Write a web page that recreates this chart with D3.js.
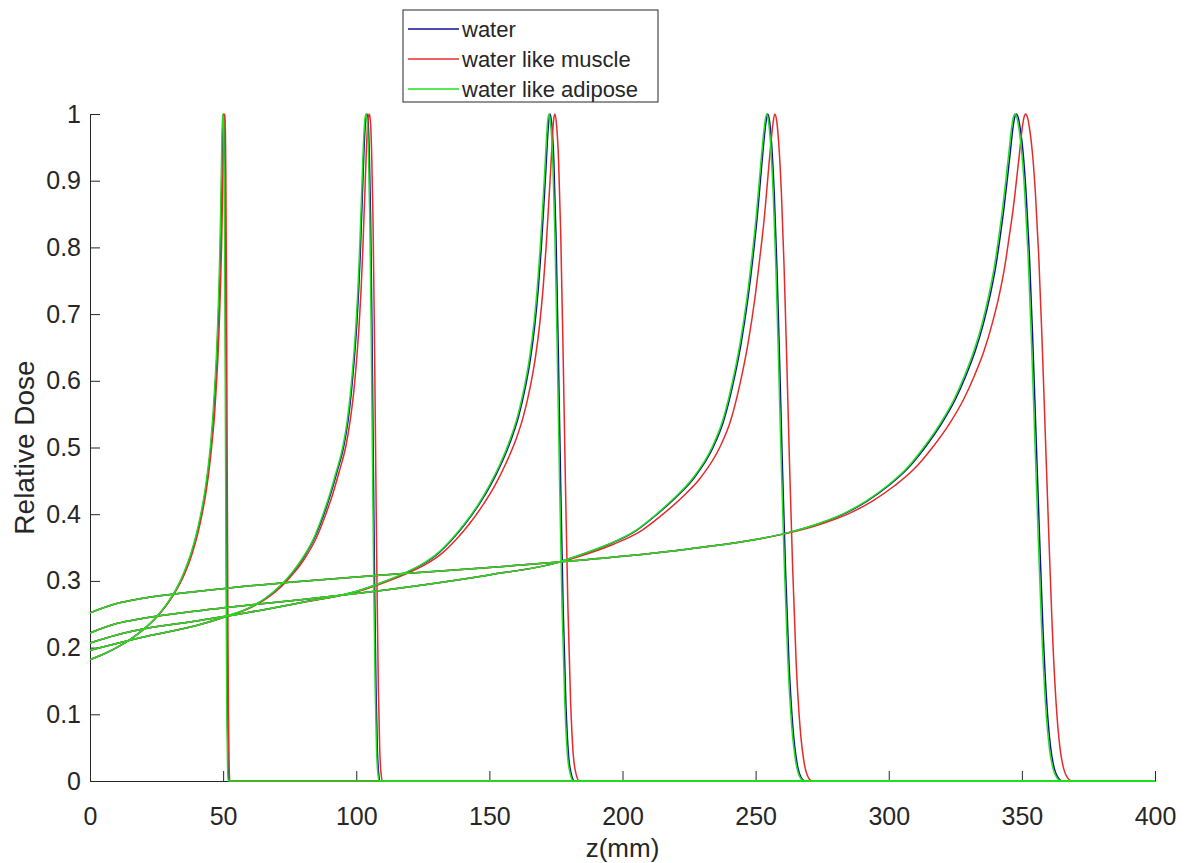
<!DOCTYPE html>
<html>
<head>
<meta charset="utf-8">
<script src="https://cdn.jsdelivr.net/npm/d3@7"></script>
<style>
  body { margin: 0; background: #fff; }
  svg text { font-family: "Liberation Sans", Arial, sans-serif; fill: #262626; }
</style>
</head>
<body>
<div id="chart"></div>
<script>
// depth (mm) where each curve reaches the matching dose value
var dose50 = [.182,.19,.2,.212,.227,.246,.266,.288,.313,.34,.368,.4,.436,.472,.51,.55,.595,.64,.69,.74,.8,.86,.92,.965,.99,1,.99,.92,.75,.5,.27,.1,.025,0,0];
var z50Water   = [0,5,10,15,20,25,29,32.5,35.5,38,40,41.8,43.4,44.6,45.6,46.4,47.1,47.7,48.2,48.6,49,49.3,49.55,49.75,49.95,50.15,50.35,50.6,50.85,51.1,51.35,51.6,51.85,52.1,400];
var z50Muscle  = [0,5,10,15,20,25.1,29.2,32.7,35.8,38.3,40.3,42.1,43.7,44.9,45.9,46.8,47.5,48.1,48.6,49,49.4,49.7,49.95,50.15,50.35,50.55,50.75,51,51.25,51.5,51.75,52,52.25,52.5,400];
var z50Adipose = [0,5,10,15,20,24.9,28.9,32.4,35.3,37.8,39.8,41.6,43.2,44.4,45.4,46.2,46.9,47.5,48,48.4,48.8,49.1,49.35,49.55,49.75,49.95,50.15,50.4,50.65,50.9,51.15,51.4,51.65,51.9,400];

var dose104 = [.196,.206,.218,.233,.247,.26,.274,.292,.312,.334,.362,.394,.428,.464,.5,.54,.585,.635,.685,.735,.79,.845,.895,.94,.975,.995,1,.99,.94,.84,.68,.48,.29,.14,.05,.012,0,0];
var z104Water   = [0,10,22.5,40,51.3,60,66,71.4,76,80,84,87.3,90.2,92.8,95.2,96.9,98.2,99.3,100.2,100.9,101.5,102,102.45,102.85,103.25,103.65,104,104.4,104.9,105.4,105.9,106.4,106.9,107.4,107.9,108.4,109,400];
var z104Muscle  = [0,10,22.5,40,51.6,60.4,66.5,72,76.6,80.7,84.7,88,91,93.6,96,97.7,99.1,100.2,101.1,101.8,102.4,102.9,103.35,103.75,104.15,104.55,104.9,105.3,105.8,106.3,106.8,107.3,107.8,108.3,108.8,109.3,109.9,400];
var z104Adipose = [0,10,22.5,40,51.2,59.9,65.8,71.2,75.8,79.8,83.8,87,89.9,92.5,94.9,96.6,97.9,99,99.9,100.6,101.2,101.7,102.15,102.55,102.95,103.35,103.7,104.1,104.6,105.1,105.6,106.1,106.6,107.1,107.6,108.1,108.7,400];

var dose173 = [.207,.219,.228,.24,.253,.268,.284,.298,.311,.325,.342,.362,.386,.414,.444,.476,.51,.547,.59,.635,.685,.74,.8,.86,.915,.96,.99,1,.985,.93,.82,.64,.44,.26,.12,.04,.01,0,0];
var z173Water   = [0,10,20,40,60,80,100,110,118,125,131,136,141,146,150.5,154.5,158,161,163.5,165.5,167.1,168.4,169.5,170.4,171.2,171.8,172.3,172.8,173.4,174.2,175,175.9,176.8,177.7,178.7,179.7,180.8,182,400];
var z173Muscle  = [0,10,20,40,60,80,100.5,110.8,119,126.2,132.4,137.5,142.6,147.6,152.2,156.2,159.8,162.8,165.3,167.3,168.9,170.2,171.3,172.2,173,173.6,174.1,174.6,175.2,176,176.8,177.7,178.6,179.5,180.5,181.5,182.6,183.8,400];
var z173Adipose = [0,10,20,40,60,80,99.8,109.8,117.7,124.7,130.7,135.7,140.7,145.7,150.1,154.1,157.6,160.6,163.1,165.1,166.7,168,169.1,170,170.8,171.4,171.9,172.4,173,173.8,174.6,175.5,176.4,177.3,178.3,179.3,180.4,181.6,400];

var dose255 = [.222,.236,.244,.255,.264,.272,.281,.294,.309,.327,.34,.355,.375,.4,.425,.455,.5,.54,.595,.655,.72,.785,.85,.91,.955,.985,1,.99,.955,.88,.77,.63,.48,.32,.18,.08,.028,.006,0,0];
var z255Water   = [0,10,20,40,60,80,100,125,150,175,185,195,205,213,220,227,234,238,241.5,244.5,247,249,250.7,252,253,253.8,254.5,255.2,256,257,258,259,260,261.2,262.5,264,265.5,267,268.5,400];
var z255Muscle  = [0,10,20,40,60,80,100,125,150,175.5,186.3,196.6,207,215.2,222.3,229.4,236.5,240.6,244.1,247.1,249.6,251.6,253.4,254.7,255.7,256.5,257.2,257.9,258.7,259.7,260.7,261.7,262.7,263.9,265.2,266.7,268.2,269.7,271.2,400];
var z255Adipose = [0,10,20,40,60,80,100,125,150,175,184.8,194.7,204.7,212.7,219.6,226.6,233.6,237.6,241.1,244.1,246.6,248.6,250.3,251.6,252.6,253.4,254.1,254.8,255.6,256.6,257.6,258.6,259.6,260.8,262.1,263.6,265.1,266.6,268.1,400];

var dose350 = [.252,.266,.274,.284,.298,.306,.313,.32,.328,.337,.348,.362,.372,.386,.402,.42,.443,.468,.5,.537,.572,.608,.645,.685,.727,.772,.815,.86,.905,.945,.978,.995,1,.995,.975,.94,.88,.79,.67,.52,.37,.23,.12,.05,.017,.004,0,0];
var z350Water   = [0,10,20,40,75,100,125,150,175,200,225,250,262,274,284,292,300,307,313.6,320,325,329,332.5,335.5,338,340.2,341.8,343.3,344.6,345.7,346.6,347.3,347.9,348.6,349.5,350.5,351.6,352.8,354,355.3,356.6,357.9,359.3,360.8,362.3,363.8,365.3,400];
var z350Muscle  = [0,10,20,40,75,100,125,150,175,200,225,250,262.6,275.2,285.6,294,302.3,309.6,316.4,323,328.1,332.2,335.8,338.8,341.4,343.6,345.2,346.8,348.1,349.2,350.1,350.8,351.4,352.1,353,354,355.1,356.3,357.5,358.8,360.1,361.4,362.8,364.3,365.8,367.3,368.8,400];
var z350Adipose = [0,10,20,40,75,100,125,150,175,200,225,250,261.8,273.7,283.6,291.6,299.6,306.6,313.1,319.5,324.5,328.5,332,335,337.5,339.7,341.3,342.8,344.1,345.2,346.1,346.8,347.4,348.1,349,350,351.1,352.3,353.5,354.8,356.1,357.4,358.8,360.3,361.8,363.3,364.8,400];

var xTicks = [0,50,100,150,200,250,300,350,400];
var yTicks = [0,0.1,0.2,0.3,0.4,0.5,0.6,0.7,0.8,0.9,1];

var series = [
  {name: "water", color: "#10108f",
   curves: [[z50Water,dose50],[z104Water,dose104],[z173Water,dose173],[z255Water,dose255],[z350Water,dose350]]},
  {name: "water like muscle", color: "#e42b2b",
   curves: [[z50Muscle,dose50],[z104Muscle,dose104],[z173Muscle,dose173],[z255Muscle,dose255],[z350Muscle,dose350]]},
  {name: "water like adipose", color: "#1fe01f",
   curves: [[z50Adipose,dose50],[z104Adipose,dose104],[z173Adipose,dose173],[z255Adipose,dose255],[z350Adipose,dose350]]}
];

var width = 1187, height = 863;
var margin = {left: 90, right: 32, top: 114, bottom: 82};

var svg = d3.select("#chart").append("svg")
  .attr("width", width)
  .attr("height", height);

var x = d3.scaleLinear().domain([0, 400]).range([margin.left, width - margin.right]);
var y = d3.scaleLinear().domain([0, 1]).range([height - margin.bottom, margin.top]);

var line = d3.line()
  .x(function(d){ return x(d[0]); })
  .y(function(d){ return y(d[1]); })
  .curve(d3.curveMonotoneX);

// axes, ticks pointing inwards like matlab
svg.append("g")
  .attr("transform", "translate(0," + y(0) + ")")
  .call(d3.axisBottom(x).tickValues(xTicks).tickFormat(d3.format("d"))
    .tickSize(-10).tickSizeOuter(0).tickPadding(26))
  .call(function(g){
    g.selectAll("text").attr("font-size", 25);
    g.selectAll("line, path").attr("stroke", "#262626");
  });

svg.append("g")
  .attr("transform", "translate(" + x(0) + ",0)")
  .call(d3.axisLeft(y).tickValues(yTicks).tickFormat(function(d){ return d3.format("")(+d.toFixed(1)); })
    .tickSize(-10).tickSizeOuter(0).tickPadding(9))
  .call(function(g){
    g.selectAll("text").attr("font-size", 25);
    g.selectAll("line, path").attr("stroke", "#262626");
  });

svg.selectAll("text").attr("font-family", null);

// curves
series.forEach(function(s){
  svg.append("g").selectAll("path")
    .data(s.curves)
    .enter().append("path")
    .attr("fill", "none")
    .attr("stroke", s.color)
    .attr("stroke-width", 1.5)
    .attr("d", function(c){
      return line(c[0].map(function(z, i){ return [z, c[1][i]]; }));
    });
});

// axis titles
svg.append("text")
  .attr("x", (x(0) + x(400)) / 2)
  .attr("y", 857)
  .attr("text-anchor", "middle")
  .attr("font-size", 26)
  .text("z(mm)");

svg.append("text")
  .attr("transform", "translate(34," + (y(0) + y(1)) / 2 + ") rotate(-90)")
  .attr("text-anchor", "middle")
  .attr("font-size", 28)
  .text("Relative Dose");

// legend
var legend = svg.append("g").attr("transform", "translate(403,10)");
legend.append("rect")
  .attr("width", 255).attr("height", 92)
  .attr("fill", "#fff").attr("stroke", "#262626").attr("stroke-width", 1);

var rows = legend.selectAll(".row")
  .data(series)
  .enter().append("g")
  .attr("class", "row")
  .attr("transform", function(d, i){ return "translate(0," + (19 + i * 30) + ")"; });

rows.append("line")
  .attr("x1", 5).attr("x2", 56)
  .attr("stroke", function(d){ return d.color; })
  .attr("stroke-width", 1.5);

rows.append("text")
  .attr("x", 59)
  .attr("dy", "0.35em")
  .attr("font-size", 22)
  .text(function(d){ return d.name; });
</script>
</body>
</html>
